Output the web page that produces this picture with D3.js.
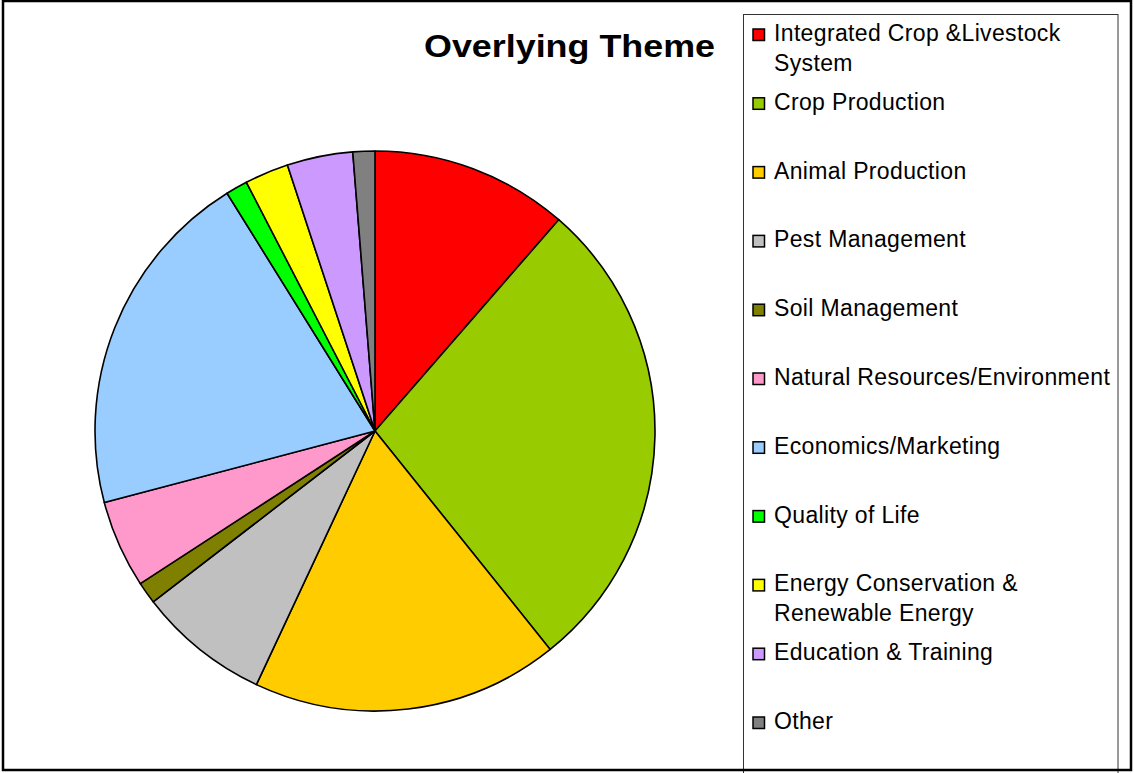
<!DOCTYPE html>
<html>
<head>
<meta charset="utf-8">
<script src="https://cdn.jsdelivr.net/npm/d3@7"></script>
<style>
  html, body { margin: 0; padding: 0; background: #fff; }
  svg { display: block; }
  text { font-family: "Liberation Sans", Arial, sans-serif; }
</style>
</head>
<body>
<script>
// ---- data ----
const categories = [
  "Integrated Crop &Livestock System",
  "Crop Production",
  "Animal Production",
  "Pest Management",
  "Soil Management",
  "Natural Resources/Environment",
  "Economics/Marketing",
  "Quality of Life",
  "Energy Conservation & Renewable Energy",
  "Education & Training",
  "Other"
];
const legendLines = [
  ["Integrated Crop &Livestock", "System"],
  ["Crop Production"],
  ["Animal Production"],
  ["Pest Management"],
  ["Soil Management"],
  ["Natural Resources/Environment"],
  ["Economics/Marketing"],
  ["Quality of Life"],
  ["Energy Conservation &", "Renewable Energy"],
  ["Education & Training"],
  ["Other"]
];
const values = [9, 22, 14, 6, 1, 4, 16, 1, 2, 3, 1];
const colors = ["#FF0000", "#99CC00", "#FFCC00", "#C0C0C0", "#808000", "#FF99CC",
                "#99CCFF", "#00FF00", "#FFFF00", "#CC99FF", "#808080"];
const title = "Overlying Theme";

// ---- layout ----
const W = 1134, H = 773;
const svg = d3.select("body").append("svg").attr("width", W).attr("height", H);

// background
svg.append("rect").attr("x", 0).attr("y", 0).attr("width", W).attr("height", H).attr("fill", "#fff");

// title
svg.append("text").attr("x", 424).attr("y", 57)
  .attr("font-size", 32).attr("font-weight", "bold").attr("fill", "#000")
  .attr("textLength", 291).attr("lengthAdjust", "spacingAndGlyphs")
  .text(title);

// pie
const cx = 375, cy = 431, r = 280;
const pie = d3.pie().sort(null).value(d => d).startAngle(0).endAngle(2 * Math.PI);
const arc = d3.arc().innerRadius(0).outerRadius(r);
const g = svg.append("g").attr("transform", `translate(${cx},${cy})`);
g.selectAll("path").data(pie(values)).join("path")
  .attr("d", arc)
  .attr("fill", (d, i) => colors[i])
  .attr("stroke", "#000").attr("stroke-width", 1.6).attr("stroke-linejoin", "round");

// legend
const lg = svg.append("g");
lg.append("rect").attr("x", 743.5).attr("y", 14.5).attr("width", 374.5).attr("height", 770)
  .attr("fill", "#fff").attr("stroke", "#333").attr("stroke-width", 1);

const rowY = d3.scaleLinear().domain([0, categories.length - 1]).range([41, 729]);
const fs = 23;
categories.forEach((c, i) => {
  const by = rowY(i);
  lg.append("rect").attr("x", 753).attr("y", by - 12).attr("width", 11.5).attr("height", 11.5)
    .attr("fill", colors[i]).attr("stroke", "#000").attr("stroke-width", 1.5);
  const t = lg.append("text").attr("x", 774).attr("y", by).attr("font-size", fs)
    .attr("letter-spacing", 0.35).attr("fill", "#000");
  legendLines[i].forEach((ln, k) => {
    t.append("tspan").attr("x", 774).attr("dy", k === 0 ? 0 : 29.5).text(ln);
  });
});

// outer frame (drawn last so it sits over the legend box)
svg.append("rect").attr("x", 3).attr("y", 1).attr("width", 1128).attr("height", 769)
  .attr("fill", "none").attr("stroke", "#000").attr("stroke-width", 2.5);
</script>
</body>
</html>
